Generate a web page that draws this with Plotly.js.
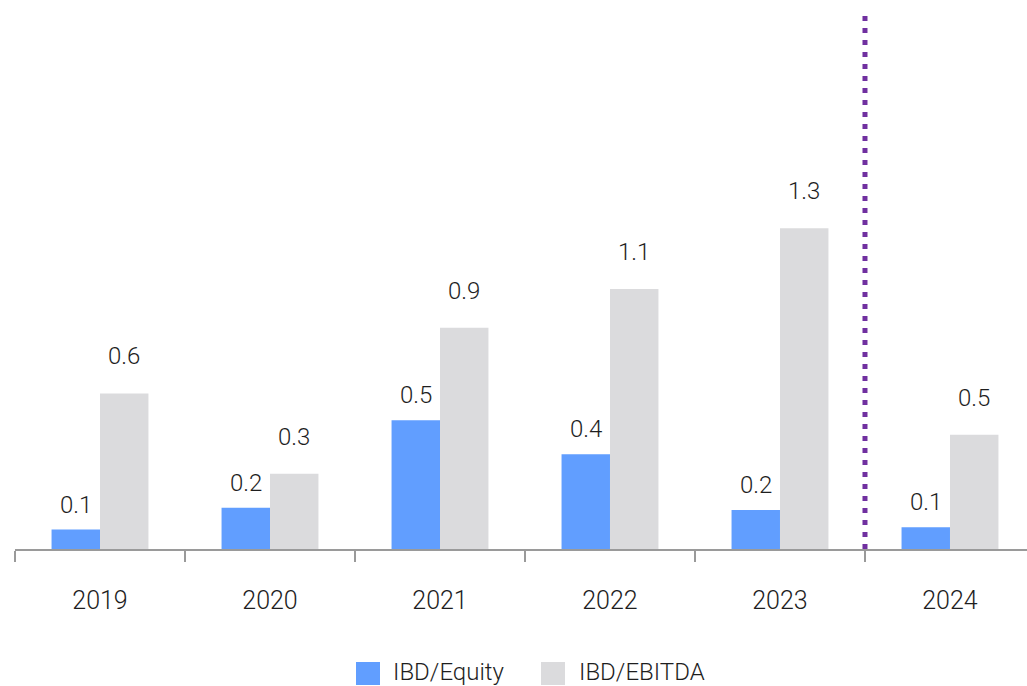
<!DOCTYPE html>
<html>
<head>
<meta charset="utf-8">
<script src="https://cdn.plot.ly/plotly-3.0.1.min.js"></script>
<style>
  html, body { margin: 0; padding: 0; background: #ffffff; }
  #chart { width: 1027px; height: 686px; }
</style>
</head>
<body>
<div id="chart"></div>
<script>
const years = ["2019", "2020", "2021", "2022", "2023", "2024"];
const ibdEquity = [0.08, 0.17, 0.53, 0.39, 0.16, 0.09];
const ibdEbitda = [0.64, 0.31, 0.91, 1.07, 1.32, 0.47];
const seriesNames = ["IBD/Equity", "IBD/EBITDA"];

const BLUE = "#619EFF";
const GRAY = "#DBDBDD";
const TEXT = "#1e1e1e";
const FONT = "Roboto, 'Liberation Sans', sans-serif";

const W = 1027, H = 686;
const M = { l: 15, r: 0, t: 10, b: 137 };
const PW = W - M.l - M.r, PH = H - M.t - M.b;
const px2x = px => (px - M.l) / PW;
const py2y = py => (H - M.b - py) / PH;

const traces = [
  { type: "bar", name: seriesNames[0], x: years, y: ibdEquity,
    marker: { color: BLUE }, hoverinfo: "skip", showlegend: false },
  { type: "bar", name: seriesNames[1], x: years, y: ibdEbitda,
    marker: { color: GRAY }, hoverinfo: "skip", showlegend: false }
];

const labelFont = { family: FONT, size: 24, color: TEXT, weight: 300 };
const annotations = [];
years.forEach((yr, i) => {
  annotations.push({ x: i, y: ibdEquity[i], xref: "x", yref: "y",
    text: ibdEquity[i].toFixed(1), showarrow: false, xshift: -24, yshift: 25,
    yanchor: "middle", font: labelFont });
  annotations.push({ x: i, y: ibdEbitda[i], xref: "x", yref: "y",
    text: ibdEbitda[i].toFixed(1), showarrow: false, xshift: 24, yshift: 37,
    yanchor: "middle", font: labelFont });
});

// legend (drawn as swatches + text)
const legendItems = [
  { name: seriesNames[0], color: BLUE, sx: 356, tx: 391 },
  { name: seriesNames[1], color: GRAY, sx: 541, tx: 577 }
];
const shapes = [{
  type: "line", xref: "x", yref: "paper", x0: 4.5, x1: 4.5, y0: 0, y1: 1,
  line: { color: "#7030A0", width: 5, dash: "5px,7px" }
}];
legendItems.forEach(it => {
  shapes.push({ type: "rect", xref: "paper", yref: "paper",
    x0: px2x(it.sx), x1: px2x(it.sx + 24), y0: py2y(685), y1: py2y(662),
    fillcolor: it.color, line: { width: 0 } });
  annotations.push({ xref: "paper", yref: "paper", x: px2x(it.tx), y: py2y(672),
    xanchor: "left", yanchor: "middle", showarrow: false, text: it.name,
    font: { family: FONT, size: 24, color: TEXT, weight: 300 } });
});

const layout = {
  width: W, height: H,
  margin: M,
  paper_bgcolor: "#ffffff", plot_bgcolor: "#ffffff",
  barmode: "group", bargap: 0.43, bargroupgap: 0,
  font: { family: FONT, color: TEXT, weight: 300 },
  xaxis: {
    type: "category", range: [-0.5, 5.453], fixedrange: true, automargin: false,
    showline: true, linecolor: "#9a9a9a", linewidth: 2,
    ticks: "outside", tickson: "boundaries", ticklen: 11, tickwidth: 2, tickcolor: "#9a9a9a",
    tickfont: { family: FONT, size: 25, color: TEXT, weight: 300 },
    ticklabelstandoff: 28, showgrid: false, zeroline: false
  },
  yaxis: {
    range: [0, 2.218], visible: false, showgrid: false, zeroline: false,
    fixedrange: true, automargin: false
  },
  shapes: shapes,
  annotations: annotations,
  showlegend: false
};

Plotly.newPlot("chart", traces, layout, { displayModeBar: false, staticPlot: true });
</script>
</body>
</html>
